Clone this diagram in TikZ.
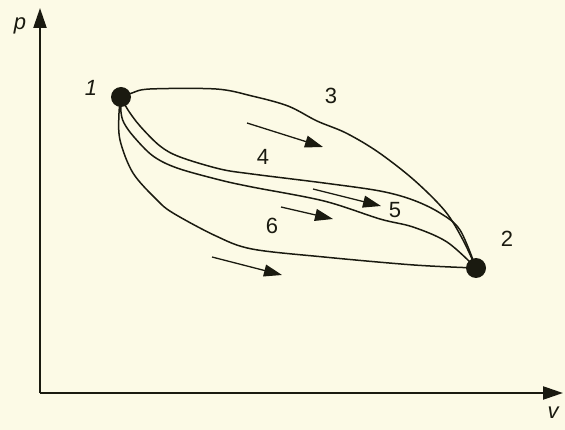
\documentclass[tikz,border=0pt]{standalone}
\usepackage{fontspec}
\setmainfont{Liberation Sans}
\usetikzlibrary{arrows.meta}
\definecolor{bg}{HTML}{FCFAE6}
\definecolor{ink}{HTML}{1A1A10}
\begin{document}
\begin{tikzpicture}[x=1pt,y=-1pt,
  dot/.style={circle,fill=ink,draw=none,minimum size=20pt,inner sep=0pt},
  curve/.style={draw=ink,line width=1.5pt},
  flow/.style={draw=ink,line width=1.3pt,-{Triangle[length=18pt,width=12pt]}},
  axis/.style={draw=ink,line width=2.3pt,-{Triangle[length=20pt,width=13pt]}},
  lbl/.style={text=ink,font=\fontsize{22}{24}\selectfont,inner sep=0pt},
  ilbl/.style={text=ink,font=\fontsize{22}{24}\selectfont\itshape,inner sep=0pt}]
\fill[bg] (0,0) rectangle (565,430);
\useasboundingbox (0,0) rectangle (565,430);
% axes
\coordinate (o) at (40,393);
\coordinate (ytip) at (40,8);
\coordinate (xtip) at (563,393);
\draw[axis] (o) -- (ytip);
\draw[axis] (o) -- (xtip);
\node[ilbl] (pl) at (20,26) {p};
\node[ilbl] (vl) at (553,413) {v};
% state points
\node[dot] (p1) at (121,97) {};
\node[dot] (p2) at (476,268) {};
% curves
\draw[curve] plot[smooth,tension=0.55] coordinates {(p1.center) (132,93) (150,89) (216,89) (252,96) (288,106) (317,121) (346,133) (378,152) (414,180) (445,211) (463,240) (p2.center)};
\draw[curve] plot[smooth,tension=0.55] coordinates {(p1.center) (128,110) (140,126) (160,146) (180,157) (220,169) (252,174) (324,183) (380,191) (413,200) (440,213) (460,230) (p2.center)};
\draw[curve] plot[smooth,tension=0.55] coordinates {(p1.center) (121,112) (124,123) (134,137) (153,156) (177,168) (220,180) (252,187) (324,201) (380,219) (413,227) (447,242) (p2.center)};
\draw[curve] plot[smooth,tension=0.55] coordinates {(p1.center) (119,113) (120,140) (133,173) (157,200) (173,213) (216,236) (252,249) (324,257) (414,265) (p2.center)};
% flow arrows
\coordinate (a3s) at (247,123); \coordinate (a3e) at (323,147);
\coordinate (a5s) at (313,189); \coordinate (a5e) at (381,206);
\coordinate (a6s) at (281,207); \coordinate (a6e) at (333,219);
\coordinate (a7s) at (212,257); \coordinate (a7e) at (282,275);
\draw[flow] (a3s) -- (a3e);
\draw[flow] (a5s) -- (a5e);
\draw[flow] (a6s) -- (a6e);
\draw[flow] (a7s) -- (a7e);
% labels
\node[ilbl] (l1) at (91,88) {1};
\node[lbl] (l2) at (507,239) {2};
\node[lbl] (l3) at (331,96) {3};
\node[lbl] (l4) at (263,157) {4};
\node[lbl] (l5) at (395,210) {5};
\node[lbl] (l6) at (272,226) {6};
\end{tikzpicture}
\end{document}
